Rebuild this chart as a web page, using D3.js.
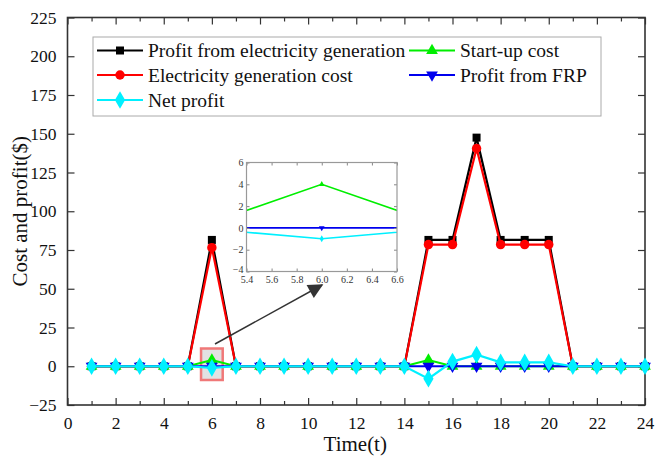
<!DOCTYPE html>
<html><head><meta charset="utf-8">
<script src="https://cdn.jsdelivr.net/npm/d3@7/dist/d3.min.js"></script>
<style>body{margin:0;background:#fff}svg{display:block}svg text{font-family:"Liberation Serif","Times New Roman",Times,"DejaVu Serif",serif !important}</style>
</head><body>
<script>
const hours = d3.range(1, 25);
const profitGen = [0,0,0,0,0,81.5,0,0,0,0,0,0,0,0,81.5,81.5,147.5,81.5,81.5,81.5,0,0,0,0];
const genCost   = [0,0,0,0,0,76.5,0,0,0,0,0,0,0,0,78.5,78.5,140.5,78.5,78.5,78.5,0,0,0,0];
const startCost = [0,0,0,0,0,4,0,0,0,0,0,0,0,0,4,0,0,0,0,0,0,0,0,0];
const profitFRP = [0,0,0,0,0,0,0,0,0,0,0,0,0,0,0,0,0,0,0,0,0,0,0,0];
const netProfit = [0,0,0,0,0,-1,0,0,0,0,0,0,0,0,-8,3,7.5,2.5,2.5,2.5,0,0,0,0];
const seriesNames = ["Profit from electricity generation","Start-up cost","Electricity generation cost","Profit from FRP","Net profit"];
const xTicks = d3.range(0, 25, 2);
const yTicks = d3.range(-25, 226, 25);
const insetXTicks = [5.4,5.6,5.8,6.0,6.2,6.4,6.6];
const insetYTicks = [-4,-2,0,2,4,6];

const W = 655, H = 463;
const svg = d3.select("body").append("svg").attr("width", W).attr("height", H);
const L = 67.5, R = 645, T = 17.5, B = 405;
const x = d3.scaleLinear().domain([0, 24]).range([L, R]);
const y = d3.scaleLinear().domain([-25, 225]).range([B, T]);

const series = [
  {name: seriesNames[0], data: profitGen, color: "#000000", shape: d3.symbolSquare, size: 64},
  {name: seriesNames[2], data: genCost, color: "#ff0000", shape: d3.symbolCircle, size: 70},
  {name: seriesNames[1], data: startCost, color: "#00ee00", shape: d3.symbolTriangle, size: 60},
  {name: seriesNames[3], data: profitFRP, color: "#0000ee", shape: "tri-down", size: 60},
  {name: seriesNames[4], data: netProfit, color: "#00f0ff", shape: d3.symbolDiamond, size: 90}
];
function sym(s, size) {
  if (s.shape === "tri-down") return d3.symbol().type(d3.symbolTriangle).size(size);
  return d3.symbol().type(s.shape).size(size);
}
function drawMarker(g, s, px, py, size) {
  return g.append("path").attr("d", sym(s, size)()).attr("fill", s.color)
    .attr("transform", `translate(${px},${py})` + (s.shape === "tri-down" ? " rotate(180)" : ""));
}

// axes (ticks inside)
const gx = svg.append("g").attr("transform", `translate(0,${B})`)
  .call(d3.axisBottom(x).tickValues(xTicks).tickSize(-7).tickPadding(12).tickFormat(d3.format("d")));
const gxm = svg.append("g").attr("transform", `translate(0,${B})`)
  .call(d3.axisBottom(x).tickValues(d3.range(1, 24, 2)).tickSize(-4).tickFormat(""));
const gxt = svg.append("g").attr("transform", `translate(0,${T})`)
  .call(d3.axisTop(x).tickValues(xTicks).tickSize(-7).tickFormat(""));
const gxtm = svg.append("g").attr("transform", `translate(0,${T})`)
  .call(d3.axisTop(x).tickValues(d3.range(1, 24, 2)).tickSize(-4).tickFormat(""));
const gy = svg.append("g").attr("transform", `translate(${L},0)`)
  .call(d3.axisLeft(y).tickValues(yTicks).tickSize(-7).tickPadding(11));
const gyr = svg.append("g").attr("transform", `translate(${R},0)`)
  .call(d3.axisRight(y).tickValues(yTicks).tickSize(-7).tickFormat(""));
[gx, gxm, gxt, gxtm, gy, gyr].forEach(g => {
  g.attr("font-family", null);
  g.select(".domain").remove();
  g.selectAll(".tick line").attr("stroke", "#333").attr("stroke-width", 1.2);
  g.selectAll("text").attr("font-size", 17.5).attr("fill", "#111");
});
svg.append("rect").attr("x", L).attr("y", T).attr("width", R - L).attr("height", B - T)
  .attr("fill", "none").attr("stroke", "#333").attr("stroke-width", 1.6);

svg.append("text").attr("x", (L + R) / 2 - 1).attr("y", 451).attr("text-anchor", "middle")
  .attr("font-size", 21).attr("fill", "#111").text("Time(t)");
svg.append("text").attr("transform", `translate(27,${(T + B) / 2}) rotate(-90)`).attr("text-anchor", "middle")
  .attr("font-size", 21).attr("fill", "#111").text("Cost and profit($)");

// highlight box (behind data)
svg.append("rect").attr("x", x(5.55)).attr("y", 348.5).attr("width", x(6.45) - x(5.55)).attr("height", 31.5)
  .attr("fill", "#e2e2e2").attr("stroke", "#f07878").attr("stroke-width", 2.5);

// data lines
const line = d3.line().x((d, i) => x(hours[i])).y(d => y(d));
const gData = svg.append("g");
series.forEach(s => {
  gData.append("path").attr("d", line(s.data)).attr("fill", "none").attr("stroke", s.color).attr("stroke-width", 2.2);
  s.data.forEach((v, i) => drawMarker(gData, s, x(hours[i]), y(v), s.size));
});

// arrow
const defs = svg.append("defs");
defs.append("marker").attr("id", "ah").attr("viewBox", "0 0 10 10").attr("refX", 9).attr("refY", 5)
  .attr("markerWidth", 13).attr("markerHeight", 10).attr("markerUnits", "strokeWidth").attr("orient", "auto")
  .append("path").attr("d", "M0,0 L10,5 L0,10 Z").attr("fill", "#333");
svg.append("line").attr("x1", 215).attr("y1", 344).attr("x2", 322).attr("y2", 285)
  .attr("stroke", "#333").attr("stroke-width", 1.5).attr("marker-end", "url(#ah)");

// inset
const iL = 246.5, iR = 397, iT = 162.5, iB = 271.5;
const ix = d3.scaleLinear().domain([5.4, 6.6]).range([iL, iR]);
const iy = d3.scaleLinear().domain([-4, 6]).range([iB, iT]);
const gi = svg.append("g");
gi.append("rect").attr("x", iL).attr("y", iT).attr("width", iR - iL).attr("height", iB - iT).attr("fill", "#fff");
defs.append("clipPath").attr("id", "ic").append("rect").attr("x", iL).attr("y", iT).attr("width", iR - iL).attr("height", iB - iT);
const gic = gi.append("g").attr("clip-path", "url(#ic)");
const iline = d3.line().x((d, i) => ix(hours[i])).y(d => iy(d));
[series[2], series[3], series[4]].forEach(s => {
  gic.append("path").attr("d", iline(s.data)).attr("fill", "none").attr("stroke", s.color).attr("stroke-width", 1.6);
  s.data.forEach((v, i) => drawMarker(gic, s, ix(hours[i]), iy(v), 14));
});
const ax1 = gi.append("g").attr("transform", `translate(0,${iB})`)
  .call(d3.axisBottom(ix).tickValues(insetXTicks).tickSize(-3).tickPadding(4).tickFormat(d3.format(".1f")));
const ax2 = gi.append("g").attr("transform", `translate(0,${iT})`)
  .call(d3.axisTop(ix).tickValues(insetXTicks).tickSize(-3).tickFormat(""));
const ay1 = gi.append("g").attr("transform", `translate(${iL},0)`)
  .call(d3.axisLeft(iy).tickValues(insetYTicks).tickSize(-3).tickPadding(3));
const ay2 = gi.append("g").attr("transform", `translate(${iR},0)`)
  .call(d3.axisRight(iy).tickValues(insetYTicks).tickSize(-3).tickFormat(""));
[ax1, ax2, ay1, ay2].forEach(g => {
  g.attr("font-family", null);
  g.select(".domain").remove();
  g.selectAll(".tick line").attr("stroke", "#888");
  g.selectAll("text").attr("font-size", 10).attr("fill", "#333");
});
// nudge -4 label up a little so it doesn't sit on 5.4
ay1.selectAll(".tick text").filter(d => d === -4).attr("dy", "0.1em");
gi.append("rect").attr("x", iL).attr("y", iT).attr("width", iR - iL).attr("height", iB - iT)
  .attr("fill", "none").attr("stroke", "#999").attr("stroke-width", 1.2);

// legend
const lg = svg.append("g");
lg.append("rect").attr("x", 93).attr("y", 37).attr("width", 508).attr("height", 79)
  .attr("fill", "#fff").attr("stroke", "#aaa").attr("stroke-width", 1);
const legendItems = [
  {s: series[0], cx: 97, cy: 50.5},
  {s: series[2], cx: 409, cy: 50.5},
  {s: series[1], cx: 97, cy: 75},
  {s: series[3], cx: 409, cy: 75},
  {s: series[4], cx: 97, cy: 100}
];
legendItems.forEach(it => {
  lg.append("line").attr("x1", it.cx).attr("x2", it.cx + 46).attr("y1", it.cy).attr("y2", it.cy)
    .attr("stroke", it.s.color).attr("stroke-width", 2);
  drawMarker(lg, it.s, it.cx + 23, it.cy, it.s.size);
  lg.append("text").attr("x", it.cx + 51).attr("y", it.cy + 6.5).attr("font-size", 19.5).attr("fill", "#111").text(it.s.name);
});
</script>
</body></html>
